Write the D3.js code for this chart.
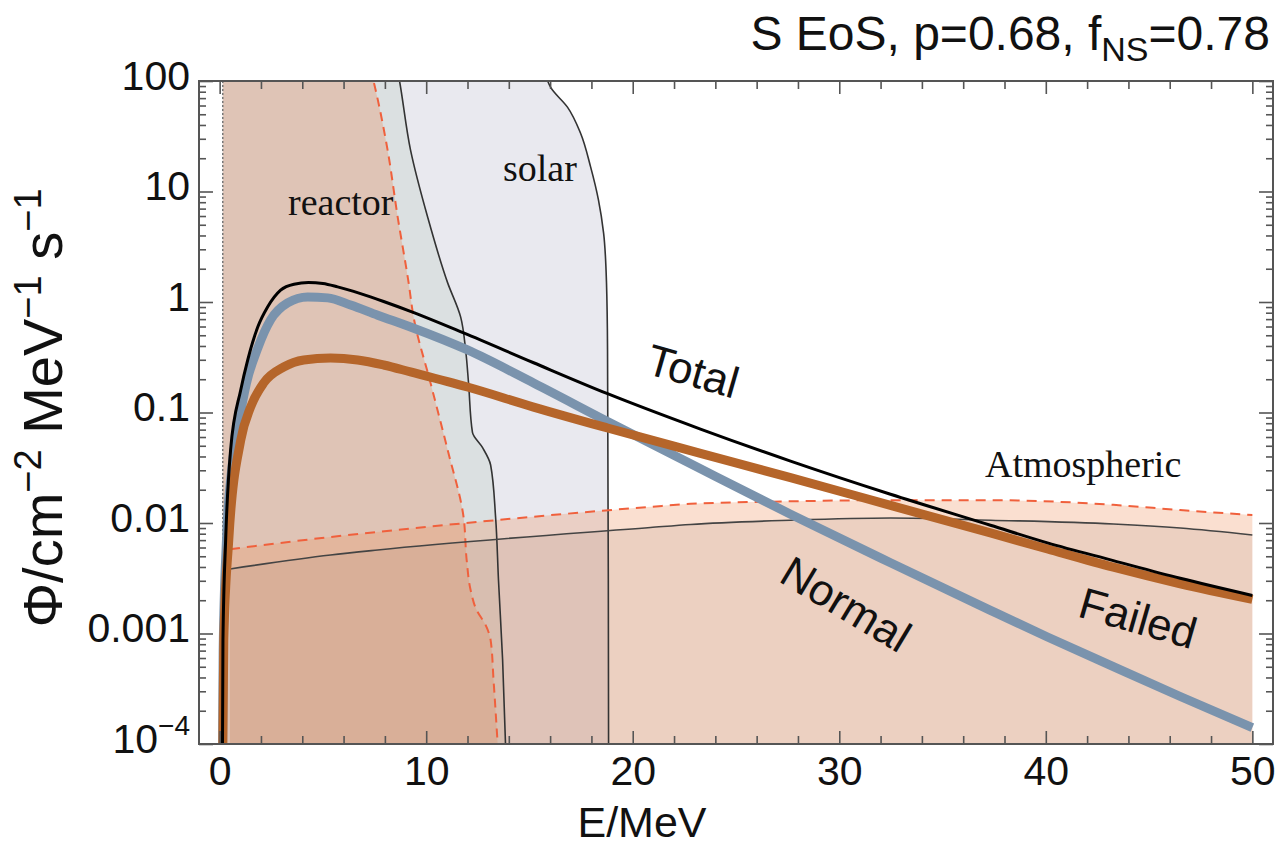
<!DOCTYPE html>
<html>
<head>
<meta charset="utf-8">
<script src="https://cdn.jsdelivr.net/npm/d3@7"></script>
<style>
  body { margin: 0; background: #fff; }
  svg { display: block; }
</style>
</head>
<body>
<div id="chart"></div>
<script>
// ---- data: [E (MeV), flux] ----
const totalFlux = [[0.13, 5e-5], [0.16, 8.7e-4], [0.29, 0.007], [0.53, 0.046], [1.02, 0.16], [1.36, 0.30],
    [1.84, 0.59], [2.32, 0.90], [2.95, 1.28], [3.6, 1.45], [4.3, 1.50], [5.0, 1.47], [5.71, 1.37],
    [6.82, 1.19], [7.94, 1.01], [9.24, 0.822], [11.81, 0.525], [15.2, 0.282], [18.78, 0.148],
    [23.28, 0.0708], [27.64, 0.0363], [32.48, 0.0182], [37.32, 0.00955], [40.08, 0.00661],
    [43.27, 0.00457], [46.51, 0.00316], [50.0, 0.00221]];
const normalFlux = [[0.13, 5e-5], [0.17, 7e-4], [0.33, 0.007], [0.58, 0.03], [0.9, 0.075], [1.3, 0.185],
    [1.84, 0.38], [2.47, 0.69], [3.29, 0.98], [4.26, 1.11], [5.23, 1.09], [6.34, 0.94], [7.65, 0.76],
    [9.24, 0.594], [12.0, 0.368], [15.2, 0.185], [18.78, 0.083], [23.28, 0.0309], [27.64, 0.0120],
    [32.48, 0.00437], [37.32, 0.00162], [40.08, 0.00093], [43.27, 0.000501], [46.51, 0.000269],
    [50.0, 0.000141]];
const failedFlux = [[0.14, 5e-5], [0.2, 8.8e-4], [0.44, 0.007], [1.02, 0.056], [1.5, 0.112], [2.13, 0.185],
    [3.1, 0.258], [4.07, 0.299], [5.37, 0.311], [6.68, 0.299], [7.94, 0.269], [9.24, 0.233],
    [12.0, 0.170], [15.2, 0.112], [18.78, 0.0724], [23.28, 0.0427], [27.64, 0.0257], [32.48, 0.01445],
    [37.32, 0.00813], [40.08, 0.00582], [43.27, 0.00398], [46.51, 0.00282], [50.0, 0.00204]];

// background edges: [E, flux], ordered top to bottom
const reactorEdge = [[7.3, 130], [7.45, 100], [8.13, 23.8], [8.62, 5.87], [9.15, 1.49], [9.39, 0.73],
    [10.21, 0.185], [11.04, 0.0458], [11.81, 0.0113], [11.96, 0.00462], [12.15, 0.00248],
    [12.44, 0.00163], [12.88, 0.00119], [13.12, 0.00087], [13.26, 0.00038], [13.46, 1e-4]];
const solarEdge = [[8.6, 130], [8.71, 100], [9.24, 23.8], [10.07, 5.87], [11.04, 1.49], [11.67, 0.73],
    [11.91, 0.368], [12.05, 0.185], [12.24, 0.066], [12.73, 0.048], [13.12, 0.0335], [13.36, 0.0113],
    [13.50, 0.00305], [13.70, 0.000575], [13.84, 1e-4]];
const hepEdge = [[15.7, 130], [15.88, 100], [16.02, 88], [16.84, 58], [17.47, 33.8], [17.96, 16.7],
    [18.34, 8.4], [18.59, 4.2], [18.73, 1.49], [18.78, 0.37], [18.83, 1e-4]];
// atmospheric bands: [E, flux]
const atmosUpper = [[0.5, 0.0058], [5.37, 0.00747], [11.7, 0.0099], [20.86, 0.014], [22.8, 0.0149],
    [27.6, 0.0157], [32.48, 0.0161], [37.3, 0.0161], [43.27, 0.0146], [46.5, 0.0131], [50.0, 0.0118]];
const atmosLower = [[0.5, 0.00384], [5.37, 0.00513], [7.65, 0.0057], [20.86, 0.0091], [22.8, 0.0097],
    [27.64, 0.0106], [32.48, 0.0111], [37.32, 0.0106], [43.27, 0.0098], [46.51, 0.0090], [50.0, 0.0078]];

const eMin = 0.15;   // lower edge of the shaded bands
const xMajor = [0, 10, 20, 30, 40, 50];
const xMinor = d3.range(0, 51, 2).filter(d => d % 10 !== 0);
const yMajor = [1e-4, 1e-3, 0.01, 0.1, 1, 10, 100];
const yLabels = ["10-4", "0.001", "0.01", "0.1", "1", "10", "100"];
const yMinor = d3.merge(d3.range(-4, 2).map(p => d3.range(2, 10).map(k => k * Math.pow(10, p))));

function draw() {
    const W = 1282, H = 848;
    const margin = { top: 81, right: 9, bottom: 104, left: 199 };
    const x0 = margin.left, x1 = W - margin.right, y0 = margin.top, y1 = H - margin.bottom;
    const sans = "'Liberation Sans', Arial, Helvetica, sans-serif";
    const serif = "'Liberation Serif', 'Times New Roman', serif";

    const svg = d3.select("#chart").append("svg")
        .attr("width", W)
        .attr("height", H);

    const x = d3.scaleLinear().domain([-1, 51]).range([x0, x1]);
    const y = d3.scaleLog().domain([1e-4, 100]).range([y1, y0]);

    svg.append("clipPath").attr("id", "plotclip")
        .append("rect").attr("x", x0).attr("y", y0).attr("width", x1 - x0).attr("height", y1 - y0);

    const plot = svg.append("g").attr("clip-path", "url(#plotclip)");

    const edgeLine = d3.line().x(d => x(d[0])).y(d => y(d[1])).curve(d3.curveMonotoneY);
    const specLine = d3.line().x(d => x(d[0])).y(d => y(d[1])).curve(d3.curveMonotoneX);

    // region left of an edge, down to the bottom
    function leftRegion(edge) {
        return edgeLine(edge) + "L" + x(eMin) + "," + (y1 + 5) + "L" + x(eMin) + "," + y(edge[0][1]) + "Z";
    }
    function underRegion(pts) {
        const last = pts[pts.length - 1], first = pts[0];
        return specLine(pts) + "L" + x(last[0]) + "," + (y1 + 5) + "L" + x(first[0]) + "," + (y1 + 5) + "Z";
    }

    // shaded backgrounds
    plot.append("path").attr("d", leftRegion(hepEdge)).attr("fill", "#e9e9ef");
    plot.append("path").attr("d", leftRegion(solarEdge)).attr("fill", "#dbe0e1");
    plot.append("path").attr("d", leftRegion(reactorEdge)).attr("fill", "#dfc4b6");
    plot.append("path").attr("d", underRegion(atmosUpper)).attr("fill", "rgb(240,150,100)").attr("fill-opacity", 0.3);
    plot.append("path").attr("d", underRegion(atmosLower)).attr("fill", "rgb(180,150,135)").attr("fill-opacity", 0.2);

    // edge lines
    plot.append("line")
        .attr("x1", x(eMin)).attr("x2", x(eMin)).attr("y1", y0).attr("y2", y1)
        .attr("stroke", "#777").attr("stroke-width", 1.5).attr("stroke-dasharray", "2,2");
    plot.append("path").attr("d", edgeLine(hepEdge)).attr("fill", "none").attr("stroke", "#333").attr("stroke-width", 1.6);
    plot.append("path").attr("d", edgeLine(solarEdge)).attr("fill", "none").attr("stroke", "#333").attr("stroke-width", 1.6);
    plot.append("path").attr("d", edgeLine(reactorEdge)).attr("fill", "none")
        .attr("stroke", "#f0603c").attr("stroke-width", 2).attr("stroke-dasharray", "9,6");
    plot.append("path").attr("d", specLine(atmosLower)).attr("fill", "none").attr("stroke", "#444").attr("stroke-width", 1.6);
    plot.append("path").attr("d", specLine(atmosUpper)).attr("fill", "none")
        .attr("stroke", "#f0603c").attr("stroke-width", 2).attr("stroke-dasharray", "10,7");

    // spectra
    plot.append("path").attr("d", specLine(normalFlux)).attr("fill", "none")
        .attr("stroke", "#7a93ad").attr("stroke-width", 9);
    plot.append("path").attr("d", specLine(failedFlux)).attr("fill", "none")
        .attr("stroke", "#b5652a").attr("stroke-width", 9);
    plot.append("path").attr("d", specLine(totalFlux)).attr("fill", "none")
        .attr("stroke", "#000").attr("stroke-width", 3);

    // labels inside the plot
    const serifLabels = [["reactor", 288, 215], ["solar", 503, 181], ["Atmospheric", 985, 477]];
    serifLabels.forEach(function (l) {
        svg.append("text").attr("x", l[1]).attr("y", l[2])
            .attr("font-family", serif).attr("font-size", 38).attr("fill", "#111")
            .text(l[0]);
    });
    const curveLabels = [["Total", 693, 371, 16], ["Normal", 846, 604, 31], ["Failed", 1138, 618, 16]];
    curveLabels.forEach(function (l) {
        svg.append("text")
            .attr("transform", "translate(" + l[1] + "," + l[2] + ") rotate(" + l[3] + ")")
            .attr("text-anchor", "middle").attr("dy", "0.35em")
            .attr("font-family", sans).attr("font-size", 44).attr("fill", "#111")
            .text(l[0]);
    });

    // axes: ticks point inwards on all four sides
    const tickColor = "#555";
    function styleAxis(g) {
        g.select(".domain").remove();
        g.selectAll(".tick line").attr("stroke", tickColor).attr("stroke-width", 1.6);
        g.attr("font-family", sans).attr("font-size", 41);
        g.selectAll("text").attr("fill", "#111");
    }
    svg.append("g").attr("transform", `translate(0,${y1})`)
        .call(d3.axisBottom(x).tickValues(xMajor).tickSize(-13).tickPadding(12).tickFormat(d3.format("d")))
        .call(styleAxis);
    svg.append("g").attr("transform", `translate(0,${y1})`)
        .call(d3.axisBottom(x).tickValues(xMinor).tickSize(-8).tickFormat(""))
        .call(styleAxis);
    svg.append("g").attr("transform", `translate(0,${y0})`)
        .call(d3.axisTop(x).tickValues(xMajor).tickSize(-13).tickFormat(""))
        .call(styleAxis);
    svg.append("g").attr("transform", `translate(0,${y0})`)
        .call(d3.axisTop(x).tickValues(xMinor).tickSize(-8).tickFormat(""))
        .call(styleAxis);

    const yLeft = svg.append("g").attr("transform", `translate(${x0},0)`)
        .call(d3.axisLeft(y).tickValues(yMajor).tickSize(-14).tickPadding(9)
            .tickFormat(d => yLabels[yMajor.indexOf(d)]))
        .call(styleAxis);
    yLeft.selectAll("text").attr("dy", "0.2em");
    // 10^-4 gets a superscript
    yLeft.selectAll(".tick text").filter(d => d === 1e-4).each(function () {
        const t = d3.select(this).text("");
        t.append("tspan").text("10");
        t.append("tspan").attr("dy", "-0.62em").attr("font-size", 28).text("\u22124");
    });
    svg.append("g").attr("transform", `translate(${x0},0)`)
        .call(d3.axisLeft(y).tickValues(yMinor).tickSize(-7).tickFormat(""))
        .call(styleAxis);
    svg.append("g").attr("transform", `translate(${x1},0)`)
        .call(d3.axisRight(y).tickValues(yMajor).tickSize(-14).tickFormat(""))
        .call(styleAxis);
    svg.append("g").attr("transform", `translate(${x1},0)`)
        .call(d3.axisRight(y).tickValues(yMinor).tickSize(-7).tickFormat(""))
        .call(styleAxis);

    // frame
    svg.append("rect")
        .attr("x", x0).attr("y", y0).attr("width", x1 - x0).attr("height", y1 - y0)
        .attr("fill", "none").attr("stroke", tickColor).attr("stroke-width", 2);

    // axis titles
    svg.append("text").attr("x", 642).attr("y", 837).attr("text-anchor", "middle")
        .attr("font-family", sans).attr("font-size", 43).attr("fill", "#111")
        .text("E/MeV");

    const yTitle = svg.append("text")
        .attr("transform", "translate(62,408) rotate(-90)")
        .attr("text-anchor", "middle")
        .attr("font-family", sans).attr("font-size", 56).attr("fill", "#111");
    yTitle.append("tspan").text("\u03A6/cm");
    yTitle.append("tspan").attr("dy", -21).attr("font-size", 38).text("\u22122");
    yTitle.append("tspan").attr("dy", 21).text(" MeV");
    yTitle.append("tspan").attr("dy", -21).attr("font-size", 38).text("\u22121");
    yTitle.append("tspan").attr("dy", 21).text(" s");
    yTitle.append("tspan").attr("dy", -21).attr("font-size", 38).text("\u22121");

    // title in the top right corner
    const title = svg.append("text").attr("x", 1270).attr("y", 50).attr("text-anchor", "end")
        .attr("font-family", sans).attr("font-size", 48).attr("fill", "#111");
    title.append("tspan").text("S EoS, p=0.68, f");
    title.append("tspan").attr("dy", 11).attr("font-size", 34).text("NS");
    title.append("tspan").attr("dy", -11).text("=0.78");
}

window.onload = draw;
</script>
</body>
</html>
